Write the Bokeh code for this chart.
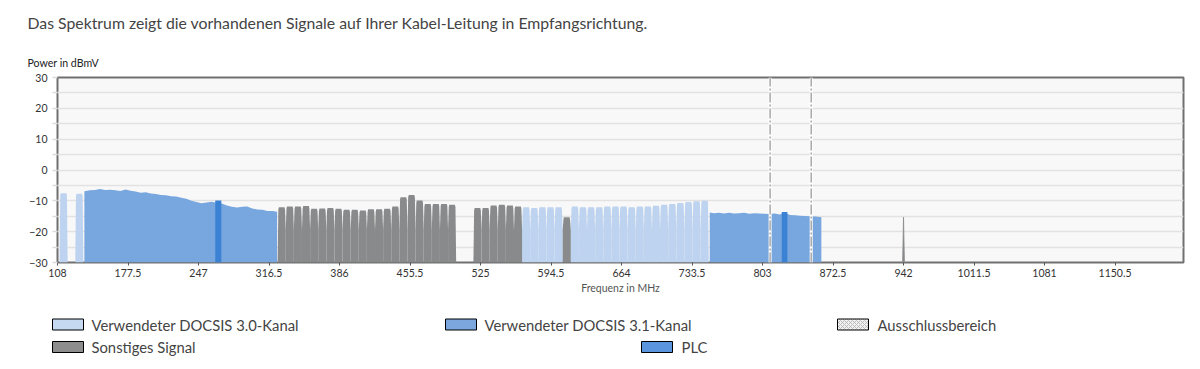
from bokeh.plotting import figure
from bokeh.models import Range1d, FixedTicker, SingleIntervalTicker
from bokeh.core.properties import value
from bokeh.embed import file_html
from bokeh.resources import INLINE

# ---------------- data ----------------
TITLE = "Das Spektrum zeigt die vorhandenen Signale auf Ihrer Kabel-Leitung in Empfangsrichtung."
Y_LABEL = "Power in dBmV"
X_LABEL = "Frequenz in MHz"
x_ticks = [108, 177.5, 247, 316.5, 386, 455.5, 525, 594.5, 664, 733.5, 803, 872.5, 942, 1011.5, 1081, 1150.5]

# DOCSIS 3.0 channels (start frequency in MHz, 8 MHz wide) and level in dBmV
d30_start = [110, 125.5,
             566, 574, 582, 590, 598,
             614, 622, 630, 638, 646, 654, 662, 670, 678, 686, 694, 702, 710, 718, 726, 734, 742]
d30_level = [-7.5, -7.7,
             -12.1, -12.3, -12.1, -12.1, -12.1,
             -11.8, -12.1, -12.1, -12.1, -11.8, -11.8, -11.8, -12.1, -11.8, -11.8, -11.6, -11.3,
             -11.0, -10.7, -10.4, -10.1, -10.0]

# other signals (start frequency, 8 MHz wide) and level
other_start = [325, 333, 341, 349, 357, 365, 373, 381, 389, 397, 405, 413, 421, 429, 437, 445,
               453, 461, 469, 477, 485, 493,
               518, 526, 534, 542, 550, 558,
               606]
other_level = [-12.1, -11.8, -11.8, -11.7, -12.6, -12.5, -12.3, -12.6, -12.9, -12.9, -13.1, -12.7,
               -12.7, -12.6, -11.8, -8.8, -8.1, -9.9, -11.0, -11.0, -11.0, -11.3,
               -12.3, -12.3, -11.5, -11.3, -11.5, -11.8,
               -15.3]

# DOCSIS 3.1 OFDM blocks (sampled spectrum)
ofdm1_freq = [134.5, 140, 145, 150, 155, 160, 165, 170, 175, 180, 185, 190, 195, 200, 205, 210, 215,
              220, 225, 230, 235, 240, 245, 250, 255, 260, 265, 270, 275, 280, 285, 290, 295, 300,
              305, 310, 315, 320, 324.5]
ofdm1_level = [-6.9, -6.6, -6.5, -6.2, -6.5, -6.4, -6.6, -6.8, -6.3, -6.7, -7.0, -7.4, -7.2, -7.6,
               -7.8, -8.1, -8.2, -8.5, -8.6, -9.0, -9.3, -10.0, -10.4, -10.8, -10.5, -10.3, -10.6,
               -10.9, -11.5, -11.9, -12.2, -11.9, -11.8, -12.5, -12.8, -12.9, -13.3, -13.3, -13.5]
ofdm2_freq = [751, 755, 760, 765, 770, 775, 780, 785, 790, 795, 800, 805, 810, 815, 820, 825,
              830, 835, 840, 845, 850, 855, 861]
ofdm2_level = [-13.8, -14.0, -13.9, -14.1, -13.9, -14.1, -14.0, -13.9, -14.2, -14.0, -14.1, -14.2,
               -14.3, -14.1, -14.4, -13.8, -14.6, -14.7, -14.8, -14.9, -15.0, -15.1, -15.3]

# PLC carriers
plc_start = [263.5, 822]
plc_end = [269.5, 827.5]
plc_level = [-9.9, -13.6]

# exclusion markers
excl_freq = [810.5, 851]

# single carrier spike
spike_freq = [942]
spike_level = [-15.3]

legend_labels = ["Verwendeter DOCSIS 3.0-Kanal", "Verwendeter DOCSIS 3.1-Kanal", "Ausschlussbereich",
                 "Sonstiges Signal", "PLC"]

# ---------------- style / layout ----------------
C30 = "#bdd3ef"
C31 = "#78a6de"
COTH = "#898a8b"
CPLC = "#3b82d4"
FLOOR = -30
VALLEY = -19.5
CH_W = 8
FONT = "Lato"
TXT = "#444444"
CW = 1192
HDR_H = 69
LG_H = 61

all_starts = set(d30_start) | set(other_start)
all_ends = set(s + CH_W for s in d30_start) | set(s + CH_W for s in other_start)


def channel_shapes(starts, levels):
    xs, ys = [], []
    for s, L in zip(starts, levels):
        e = s + CH_W
        lv = VALLEY if s in all_ends else FLOOR
        rv = VALLEY if e in all_starts else FLOOR
        xs.append([s, s, s + 0.7, s + 1.2, e - 1.2, e - 0.7, e, e])
        ys.append([FLOOR, lv, L - 0.8, L, L, L - 0.8, rv, FLOOR])
    return xs, ys


def blank_fig(h):
    f = figure(width=CW, height=h, x_range=Range1d(0, CW), y_range=Range1d(h, 0),
               x_axis_type=None, y_axis_type=None, toolbar_location=None, output_backend="svg",
               min_border_left=0, min_border_right=0, min_border_top=0, min_border_bottom=0,
               outline_line_color=None)
    f.grid.visible = False
    return f


# ---------------- header ----------------
hdr = blank_fig(HDR_H)
hdr.text(x=[27], y=[22], text=[TITLE], text_font=value(FONT), text_font_size="15.8px",
         text_color=TXT, text_baseline="middle", text_align="left")
hdr.text(x=[27], y=[62], text=[Y_LABEL], text_font=value(FONT), text_font_size="10.6px",
         text_color="#222222", text_baseline="middle", text_align="left")

# ---------------- main chart ----------------
p = figure(width=CW, height=231, x_range=Range1d(108, 1218), y_range=Range1d(-30, 30),
           toolbar_location=None, output_backend="svg",
           min_border_left=57, min_border_right=9, min_border_top=8, min_border_bottom=38)
p.background_fill_color = "#f8f8f8"
p.border_fill_color = "white"
p.outline_line_color = "#707070"
p.outline_line_width = 2
p.xgrid.visible = False
p.ygrid.grid_line_color = "#e2e2e2"
p.ygrid.grid_line_width = 1.5
p.ygrid.ticker = SingleIntervalTicker(interval=5)

p.yaxis.ticker = SingleIntervalTicker(interval=5)
p.yaxis.major_label_overrides = {v: "" for v in [-25, -15, -5, 5, 15, 25]}
p.yaxis.axis_line_color = None
p.yaxis.major_tick_line_color = "#dcdcdc"
p.yaxis.major_tick_line_width = 1.5
p.yaxis.major_tick_out = 5
p.yaxis.major_tick_in = 0
p.yaxis.minor_tick_line_color = None
p.yaxis.major_label_standoff = 5

p.xaxis.ticker = FixedTicker(ticks=x_ticks)
p.xaxis.axis_line_color = None
p.xaxis.major_tick_line_color = "#555555"
p.xaxis.major_tick_out = 3
p.xaxis.major_tick_in = 0
p.xaxis.minor_tick_line_color = None
p.xaxis.major_label_standoff = 3
p.xaxis.axis_label = X_LABEL
p.xaxis.axis_label_standoff = 2
p.xaxis.axis_label_text_font = FONT
p.xaxis.axis_label_text_font_size = "10.5px"
p.xaxis.axis_label_text_font_style = "normal"
p.xaxis.axis_label_text_color = "#555555"
for ax in (p.xaxis, p.yaxis):
    ax.major_label_text_font = FONT
    ax.major_label_text_font_size = "10.5px"
    ax.major_label_text_color = "#333333"

# OFDM blocks
for fr, lv in ((ofdm1_freq, ofdm1_level), (ofdm2_freq, ofdm2_level)):
    p.patch(x=[fr[0]] + fr + [fr[-1]], y=[FLOOR] + lv + [FLOOR], fill_color=C31, line_color=None)

# PLC
p.quad(left=plc_start, right=plc_end, bottom=FLOOR, top=plc_level, fill_color=CPLC, line_color=None)

# channels
xs, ys = channel_shapes(d30_start, d30_level)
p.patches(xs=xs, ys=ys, fill_color=C30, line_color=None)
xs, ys = channel_shapes(other_start, other_level)
p.patches(xs=xs, ys=ys, fill_color=COTH, line_color=None)

# spike
for f, L in zip(spike_freq, spike_level):
    p.patch(x=[f - 0.9, f, f + 0.9], y=[FLOOR, L, FLOOR], fill_color=COTH, line_color=COTH, line_width=0.8)

# exclusion markers
p.segment(x0=excl_freq, x1=excl_freq, y0=FLOOR, y1=30, line_color="white", line_width=3)
p.segment(x0=excl_freq, x1=excl_freq, y0=FLOOR, y1=30, line_color="#a9a9a9", line_width=1.5,
          line_dash="10 2 2 2")

# ---------------- legend ----------------
lg = blank_fig(LG_H)
sw_left = [52, 445, 837, 52, 641]
sw_cy = [24, 24, 24, 46.5, 46.5]
tx_left = [91, 484, 877, 91, 681]
sw_col = ["#c5d9f1", "#7ba7de", "#f2f2f2", "#8d8d8d", "#5b95de"]
for i in range(5):
    kw = {}
    if i == 2:
        kw = dict(hatch_pattern="diagonal_cross", hatch_color="#b0b0b0", hatch_scale=4, hatch_weight=0.8)
    lg.rect(x=[sw_left[i] + 15.5], y=[sw_cy[i]], width=31, height=11, fill_color=sw_col[i],
            line_color="black", line_width=1, **kw)
lg.text(x=tx_left, y=sw_cy, text=legend_labels, text_font=value(FONT), text_font_size="14.8px",
        text_color=TXT, text_baseline="middle", text_align="left")

open("out.html", "w").write(file_html([hdr, p, lg], INLINE))
